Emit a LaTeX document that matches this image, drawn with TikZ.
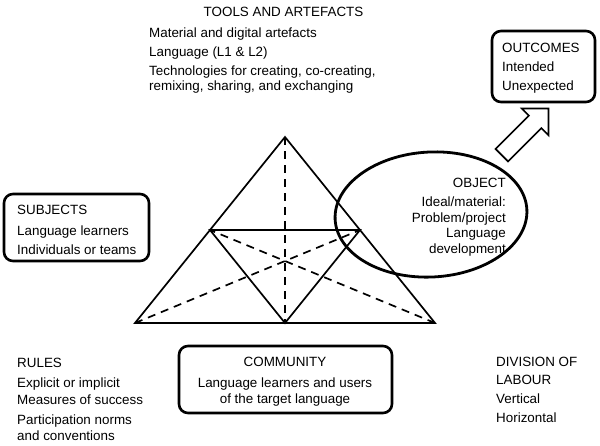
\documentclass[tikz,border=0pt]{standalone}
\usepackage{fontspec}
\setmainfont{Liberation Sans}
\usetikzlibrary{shapes.geometric,shapes.arrows,positioning}
\begin{document}
\begin{tikzpicture}[x=1pt,y=-1pt,node font=\fontsize{13.4}{16.5}\selectfont,
        txt/.style={inner sep=0pt, align=left},
        box/.style={draw, line width=2.6pt, rounded corners=9pt, inner sep=0pt},
        side/.style={line width=1.7pt},
        median/.style={line width=1.7pt, dash pattern=on 8pt off 6pt}]
        \useasboundingbox (0,0) rectangle (600,445);
        % activity triangle
        \coordinate (apex) at (285,137);
        \coordinate (bl) at (135,323);
        \coordinate (br) at (435,323);
        \coordinate (ml) at (210,230);
        \coordinate (mr) at (360,230);
        \coordinate (mb) at (285,323);
        \draw[median] (apex) -- (mb);
        \draw[median] (bl) -- (mr);
        \draw[median] (br) -- (ml);
        \draw[side] (apex) -- (bl) -- (br) -- cycle;
        \draw[side] (ml) -- (mr) -- (mb) -- cycle;
        % object and outcomes
        \node[draw, ellipse, line width=2.8pt, minimum width=192pt,
            minimum height=125pt, inner sep=0pt, rotate=3] (object) at (431,214.5) {};
        \node[txt, align=right, anchor=north east, font=\fontsize{13.4}{15.5}\selectfont]
            (objtext) at (506,178)
            {OBJECT\\[3.5pt] Ideal/material:\\ Problem/project\\ Language\\ development};
        \node[box, minimum width=103pt, minimum height=71pt] (outbox) at (543.5,66.5) {};
        \node[txt, anchor=north west] (outcomes) at (502,43)
            {OUTCOMES\\[2.5pt] Intended\\[2pt] Unexpected};
        \node[draw, single arrow, line width=1.7pt, inner sep=8pt, minimum height=66pt,
            single arrow head extend=10pt, rotate=45] (toout) at (522,135) {};
        % tools
        \node[txt] (tools) at (283.5,12) {TOOLS AND ARTEFACTS};
        \node[txt, anchor=north west] (toollist) at (149,28)
            {Material and digital artefacts\\[2.5pt] Language (L1 \& L2)\\[2.5pt]
             Technologies for creating, co-creating,\\[-1.5pt] remixing, sharing, and exchanging};
        % subjects
        \node[box, minimum width=145pt, minimum height=67pt] (subjbox) at (76.5,227.5) {};
        \node[txt, anchor=north west] (subjects) at (17,205)
            {SUBJECTS\\[4pt] Language learners\\[2.5pt] Individuals or teams};
        % bottom row
        \node[txt, anchor=north west] (rules) at (17,358)
            {RULES\\[3.5pt] Explicit or implicit\\ Measures of success\\[3.5pt]
             Participation norms\\ and conventions};
        \node[box, minimum width=213pt, minimum height=67pt] (commbox) at (285.5,379.5) {};
        \node[txt, align=center, anchor=north] (community) at (285,357)
            {COMMUNITY\\[4pt] Language learners and users\\ of the target language};
        \node[txt, anchor=north west] (labour) at (496,357)
            {DIVISION OF\\[1.5pt] LABOUR\\[2.5pt] Vertical\\[2.5pt] Horizontal};
\end{tikzpicture}
\end{document}
